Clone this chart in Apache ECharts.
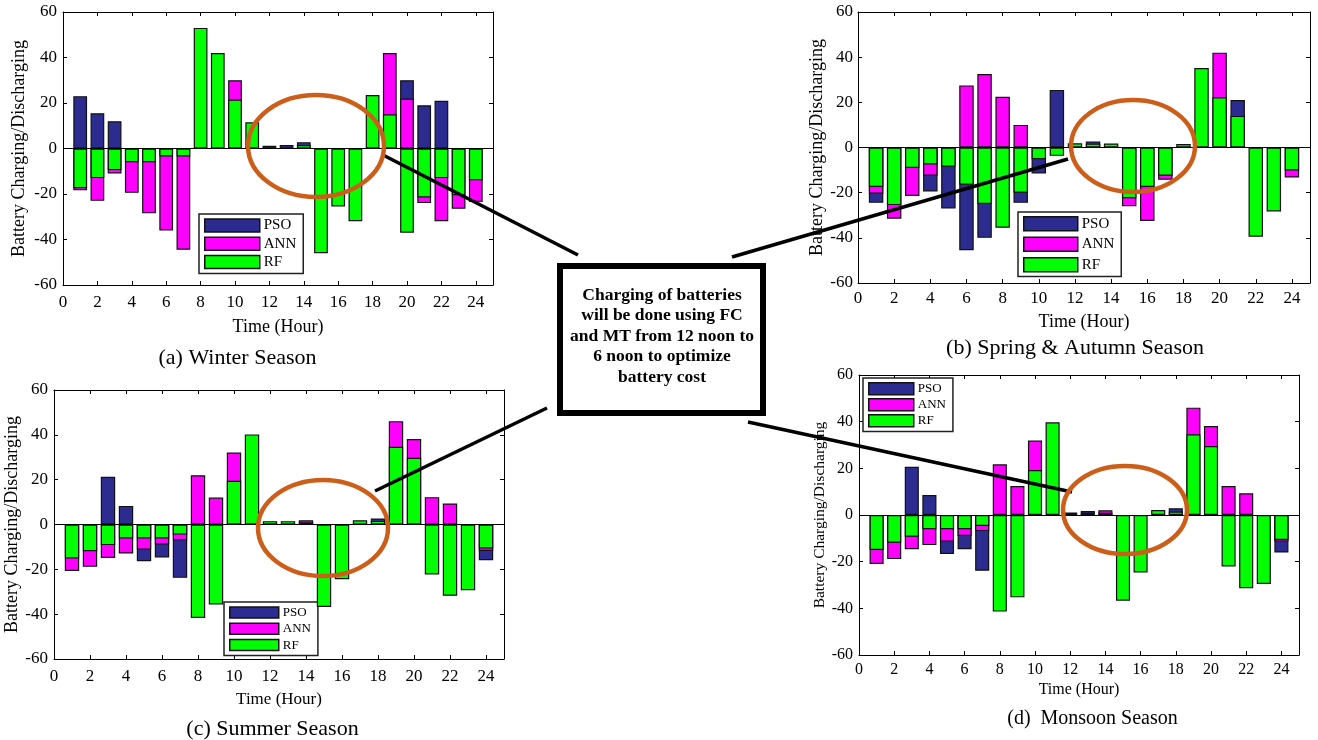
<!DOCTYPE html>
<html><head><meta charset="utf-8">
<script src="https://cdn.jsdelivr.net/npm/echarts@6/dist/echarts.min.js"></script>
<style>html,body{margin:0;padding:0;background:#fff}#c{width:1318px;height:740px}</style>
</head><body><div id="c"></div>
<script>
// ---------- data ----------
const hours = [1,2,3,4,5,6,7,8,9,10,11,12,13,14,15,16,17,18,19,20,21,22,23,24];
const methodNames = ['PSO','ANN','RF'];
const yTicks = [-60,-40,-20,0,20,40,60];
const xTicks = [0,2,4,6,8,10,12,14,16,18,20,22,24];

// null = fully hidden behind another bar (value not readable)
const winterPSO = [23,15.5,12,null,null,null,null,null,null,null,null,1.2,1.5,2.8,null,null,null,null,null,30,19,21,null,null];
const winterANN = [-18.3,-23,-11,-19.5,-28.5,-36,-44.5,null,null,30,null,null,null,null,null,null,null,null,42,22,-24,-32,-26.5,-23.5];
const winterRF  = [-17.5,-13,-9.5,-6,-6,-3.5,-3.5,53,42,21.5,11.5,null,null,1.5,-46,-25.5,-32,23.5,15,-37,-21.5,-13,-20.5,-14];

const springPSO = [-24.5,null,null,-19.5,-27,-45.5,-40,null,-24.5,-11.5,25.5,null,2.7,null,null,null,null,null,null,null,21,null,null,null];
const springANN = [-20.5,-31.5,-21.5,-12.5,null,27.5,32.5,22.5,10,null,null,null,null,null,-26,-32.5,-14.3,null,null,42,null,null,null,-13.3];
const springRF  = [-17.5,-25.5,-9,-7.5,-8.5,-16.5,-25,-35.5,-20,-5.2,-3.7,1.9,1.7,1.8,-22.5,-17.5,-12.5,1.5,35.2,22.2,14,-39.5,-28.3,-10.2];

const summerPSO = [null,null,21.3,8.3,-16.4,-14.7,-23.8,null,null,null,null,null,null,null,null,null,null,2.7,null,null,null,null,null,-15.9];
const summerANN = [-20.7,-18.9,-14.9,-12.9,-11.2,-8.9,-7,22,12,32.1,null,null,null,1.9,null,null,null,null,46.1,38.1,12.2,9.4,null,-11.8];
const summerRF  = [-15.2,-11.9,-9.2,-6.2,-6.2,-6.2,-4.5,-41.7,-35.7,19.5,40.2,1.5,1.5,1,-36.8,-24.4,1.9,1.6,34.7,29.8,-22.3,-31.8,-29.3,-10.7];

const monsoonPSO = [null,null,20.7,8.6,-16.7,-14.7,-23.9,null,null,null,null,null,1.7,null,null,null,null,2.9,null,null,null,null,null,-16.1];
const monsoonANN = [-21,-18.9,-14.7,-12.9,-11.4,-9,-6.9,21.7,12.4,31.9,null,null,null,2,null,null,null,null,46,38.1,12.4,9.3,null,-11.4];
const monsoonRF  = [-15,-11.9,-9.3,-6.1,-6.1,-6.1,-4.7,-41.4,-35.3,19.3,39.7,1.1,1,1,-36.7,-24.6,2.1,1.5,34.6,29.6,-22.1,-31.4,-29.6,-10.7];

const captions = ['(a) Winter Season','(b) Spring & Autumn Season','(c) Summer Season','(d)  Monsoon Season'];
const xTitle = 'Time (Hour)';
const yTitle = 'Battery Charging/Discharging';
const noteLines = ['Charging of batteries','will be done using FC','and MT from 12 noon to','6 noon to optimize','battery cost'];

// ---------- layout / style ----------
const SERIF = '"Liberation Serif", "Times New Roman", serif';
const colors = ['#2c2c90','#ff00ff','#00ff00'];
const panels = [
  {grid:{left:63,top:12,width:430,height:273}, data:[winterPSO,winterANN,winterRF],
   yGap:35, xGap:33, yFont:18, xFont:18, tickFont:17, xMargin:9, yMargin:6,
   legend:{left:199,top:214,itemWidth:55,itemHeight:13,itemGap:3.3,font:15},
   cap:{x:237.5,y:358,size:22}},
  {grid:{left:858,top:12,width:452,height:271}, data:[springPSO,springANN,springRF],
   yGap:32, xGap:30, yFont:18, xFont:18, tickFont:17, xMargin:7, yMargin:5,
   legend:{left:1018,top:212,itemWidth:54,itemHeight:14,itemGap:5,font:15},
   cap:{x:1075,y:348,size:22}},
  {grid:{left:54,top:390,width:450,height:269}, data:[summerPSO,summerANN,summerRF],
   yGap:31, xGap:32, yFont:18, xFont:17, tickFont:17, xMargin:9, yMargin:6,
   legend:{left:224,top:602,itemWidth:49,itemHeight:11,itemGap:3.3,font:13},
   cap:{x:272.5,y:729,size:22}},
  {grid:{left:859,top:375,width:440,height:280}, data:[monsoonPSO,monsoonANN,monsoonRF],
   yGap:29, xGap:27, yFont:15.5, xFont:16, tickFont:16, xMargin:7, yMargin:6,
   legend:{left:863,top:378,itemWidth:45,itemHeight:12,itemGap:2.5,font:13},
   cap:{x:1092.5,y:719,size:20}}
];

const grid=[], xAxis=[], yAxis=[], series=[], legend=[], graphic=[];
panels.forEach((p,i)=>{
  grid.push(Object.assign({outerBoundsMode:'none', containLabel:false}, p.grid));
  const tick = {inside:true, length:4, lineStyle:{color:'#000',width:1}};
  const line = {show:true, onZero:false, lineStyle:{color:'#000',width:1}};
  // primary x
  xAxis.push({gridIndex:i, type:'value', min:xTicks[0], max:25, interval:xTicks[1]-xTicks[0], position:'bottom',
    axisLine:line, axisTick:tick, splitLine:{show:false},
    axisLabel:{color:'#000', fontFamily:SERIF, fontSize:p.tickFont, margin:p.xMargin,
      formatter:v=> xTicks.indexOf(v)>=0 ? String(v) : ''},
    name:xTitle, nameLocation:'middle', nameGap:p.xGap,
    nameTextStyle:{color:'#000', fontFamily:SERIF, fontSize:p.xFont}});
  // top frame x
  xAxis.push({gridIndex:i, type:'value', min:xTicks[0], max:25, interval:xTicks[1]-xTicks[0], position:'top',
    axisLine:line, axisTick:tick, axisLabel:{show:false}, splitLine:{show:false}});
  // primary y
  yAxis.push({gridIndex:i, type:'value', min:yTicks[0], max:yTicks[yTicks.length-1], interval:yTicks[1]-yTicks[0], position:'left',
    axisLine:line, axisTick:tick, splitLine:{show:false},
    axisLabel:{color:'#000', fontFamily:SERIF, fontSize:p.tickFont, margin:p.yMargin},
    name:yTitle, nameLocation:'middle', nameGap:p.yGap,
    nameTextStyle:{color:'#000', fontFamily:SERIF, fontSize:p.yFont}});
  // right frame y
  yAxis.push({gridIndex:i, type:'value', min:yTicks[0], max:yTicks[yTicks.length-1], interval:yTicks[1]-yTicks[0], position:'right',
    axisLine:line, axisTick:tick, axisLabel:{show:false}, splitLine:{show:false}});

  p.data.forEach((arr,k)=>{
    const s = {
      type:'bar', name:methodNames[k], xAxisIndex:i*2, yAxisIndex:i*2,
      data: hours.map((h,j)=>[h, arr[j]]),
      barWidth:'80%', barGap:'-100%',
      itemStyle:{color:colors[k], borderColor:'#111', borderWidth:1.2},
      emphasis:{disabled:true}, z:2+k
    };
    if(k===2){
      s.markLine = {silent:true, symbol:['none','none'], label:{show:false},
        lineStyle:{color:'#000', width:1.2, type:'solid'}, data:[{yAxis:0}]};
    }
    series.push(s);
  });

  legend.push({show:true, orient:'vertical', left:p.legend.left, top:p.legend.top,
    data:methodNames.slice(), icon:'rect', itemWidth:p.legend.itemWidth, itemHeight:p.legend.itemHeight,
    itemGap:p.legend.itemGap, padding:[4,7,4,5], borderColor:'#222', borderWidth:1.5, backgroundColor:'#fff',
    itemStyle:{borderColor:'#111', borderWidth:1.5},
    textStyle:{color:'#000', fontFamily:SERIF, fontSize:p.legend.font, padding:[0,0,0,-1]},
    selectedMode:false});

  graphic.push({type:'text', x:p.cap.x, y:p.cap.y, z:50,
    style:{text:captions[i], font:p.cap.size+'px '+SERIF, fill:'#000',
      align:'center', verticalAlign:'middle', textAlign:'center', textVerticalAlign:'middle'}});
});

// annotation: connector lines, ellipses, note box
const lineStyle = {stroke:'#000', lineWidth:3.5};
[[578,255,383,155],[732,257,1068,159],[547,408,375,491],[748,422,1072,492]].forEach(c=>{
  graphic.push({type:'line', z:60, shape:{x1:c[0],y1:c[1],x2:c[2],y2:c[3]}, style:lineStyle});
});
[[316,146,68,51],[1133,146,62,46],[323,528,65,48],[1125,510,62,44]].forEach(e=>{
  graphic.push({type:'ellipse', z:61, shape:{cx:e[0],cy:e[1],rx:e[2],ry:e[3]},
    style:{fill:null, stroke:'#cc5e1a', lineWidth:4.5}});
});
graphic.push({type:'rect', z:70, shape:{x:560,y:266,width:203,height:147},
  style:{fill:'#fff', stroke:'#000', lineWidth:6}});
graphic.push({type:'text', z:71, x:662, y:336,
  style:{text:noteLines.join('\n'), font:'bold 17.5px '+SERIF, fill:'#000', lineHeight:20.5,
    align:'center', verticalAlign:'middle', textAlign:'center', textVerticalAlign:'middle'}});

const chart = echarts.init(document.getElementById('c'), null, {renderer:'canvas'});
chart.setOption({animation:false, backgroundColor:'#fff', grid, xAxis, yAxis, series, legend, graphic});
</script>
</body></html>
